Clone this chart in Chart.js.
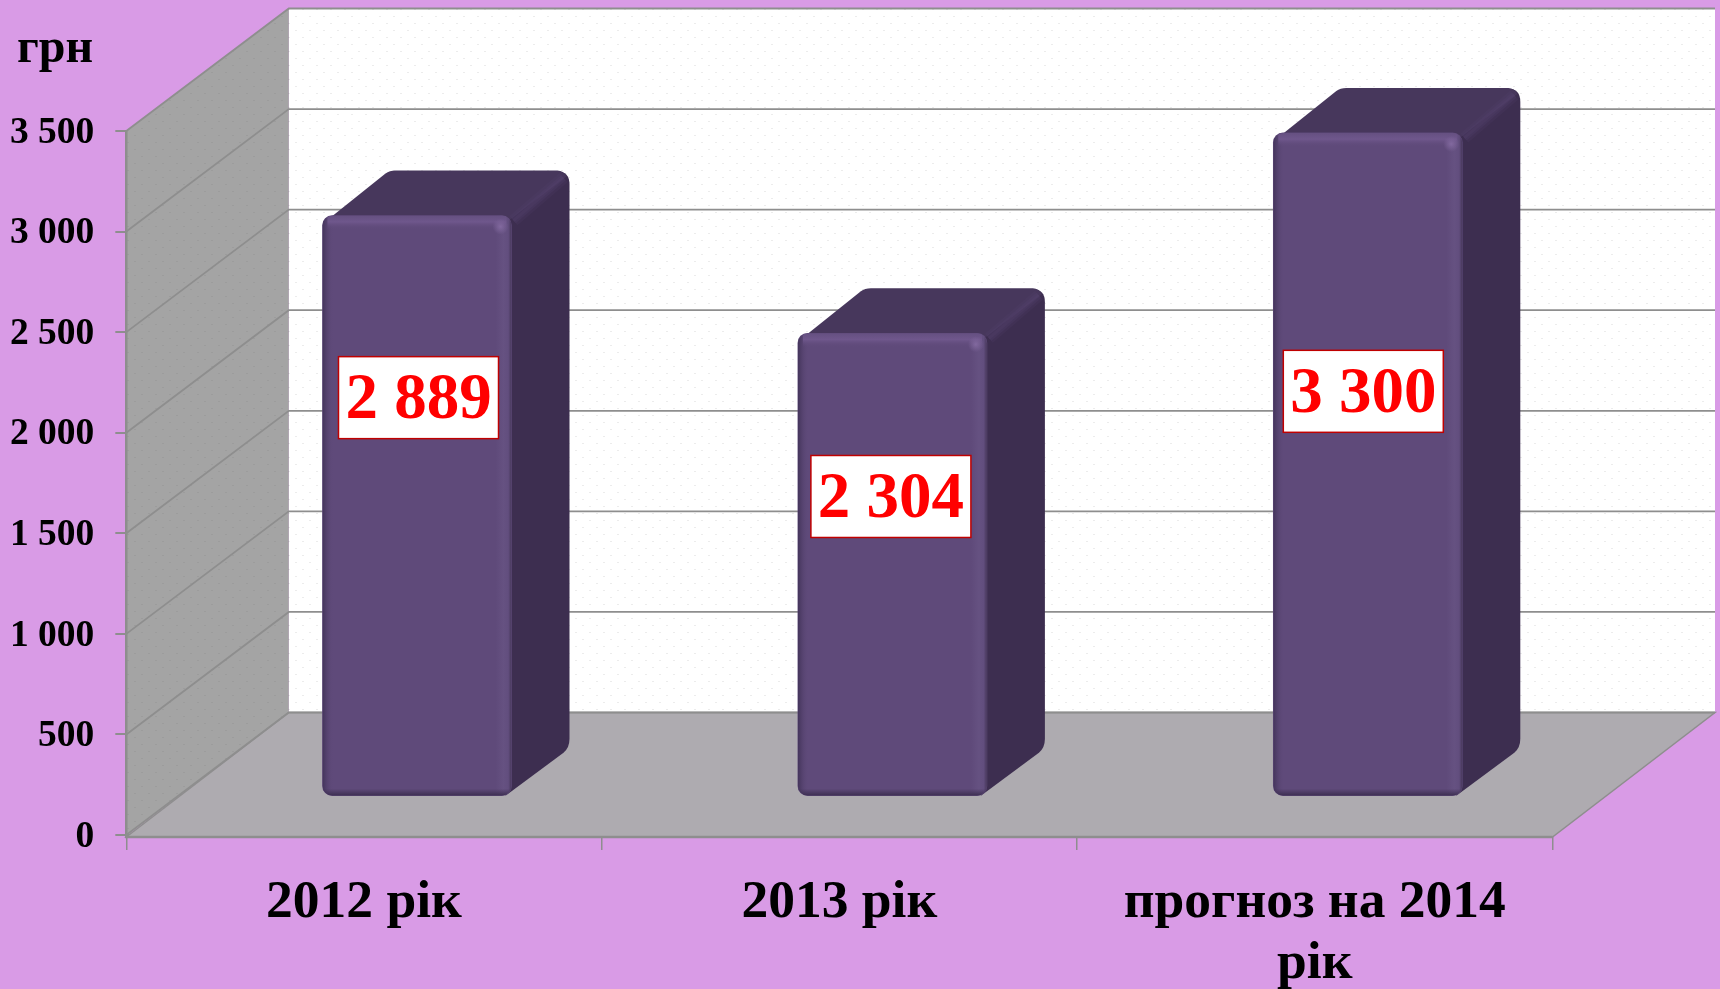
<!DOCTYPE html>
<html lang="uk">
<head>
<meta charset="utf-8">
<title>Chart</title>
<script src="https://cdn.jsdelivr.net/npm/chart.js@4"></script>
<style>
  html, body { margin: 0; padding: 0; background: #d99be6; overflow: hidden; }
  canvas { display: block; }
</style>
</head>
<body>
<canvas id="chart" width="1720" height="989"></canvas>
<script>
const categories = ['2012 рік', '2013 рік', ['прогноз на 2014', 'рік']];
const values = [2889, 2304, 3300];
const valueLabels = ['2 889', '2 304', '3 300'];
const yTickLabels = ['0', '500', '1 000', '1 500', '2 000', '2 500', '3 000', '3 500'];
const unitLabel = 'грн';

// the labels were dragged by hand in the original, so they sit above the bar middle
const labelNudge = [[1.5, -108], [-1.5, -68], [-4.5, -73]];

// 3d look: how far the back wall and the bars sit behind the axis plane
const wallDepth = { x: 162.5, y: -122.5 };
const barShift = { x: 53, y: -38.3 };
const barDepth = { x: 58, y: -45 };

const FONT = '"Liberation Serif", serif';
const LINE = '#8e8e8e';

function dotPattern(ctx, bg, dot) {
  const c = document.createElement('canvas');
  c.width = 14; c.height = 14;
  const p = c.getContext('2d');
  p.fillStyle = bg;
  p.fillRect(0, 0, 14, 14);
  p.fillStyle = dot;
  p.fillRect(1, 2, 2, 1);
  p.fillRect(8, 9, 2, 1);
  return ctx.createPattern(c, 'repeat');
}

function poly(ctx, pts) {
  ctx.beginPath();
  pts.forEach((p, i) => i ? ctx.lineTo(p[0], p[1]) : ctx.moveTo(p[0], p[1]));
  ctx.closePath();
}

const roomPlugin = {
  id: 'room',
  beforeDatasetsDraw(chart) {
    const { ctx, chartArea: a, scales: { y } } = chart;
    const dx = wallDepth.x, dy = wallDepth.y;
    ctx.save();
    // back wall
    ctx.fillStyle = dotPattern(ctx, '#ffffff', '#ececec');
    ctx.fillRect(a.left + dx, a.top + dy, a.right - a.left, a.bottom - a.top);
    // left wall
    poly(ctx, [[a.left, a.top], [a.left + dx, a.top + dy], [a.left + dx, a.bottom + dy], [a.left, a.bottom]]);
    ctx.fillStyle = dotPattern(ctx, '#a4a4a4', '#9c9c9c');
    ctx.fill();
    // floor
    poly(ctx, [[a.left, a.bottom + 2], [a.left + dx, a.bottom + dy], [a.right + dx, a.bottom + dy], [a.right, a.bottom + 2]]);
    ctx.fillStyle = '#aeabb0';
    ctx.fill();
    ctx.strokeStyle = LINE;
    ctx.lineWidth = 1.5;
    ctx.stroke();
    // gridlines, wall then back
    y.ticks.forEach(t => {
      const py = y.getPixelForValue(t.value);
      ctx.beginPath();
      ctx.moveTo(a.left, py);
      ctx.lineTo(a.left + dx, py + dy);
      ctx.lineTo(a.right + dx, py + dy);
      ctx.lineWidth = 1.8;
      ctx.strokeStyle = LINE;
      ctx.stroke();
    });
    // axis edges, the walls were painted over them
    ctx.beginPath();
    ctx.moveTo(a.left, a.top);
    ctx.lineTo(a.left, a.bottom + 2);
    ctx.lineTo(a.right, a.bottom + 2);
    ctx.lineWidth = 2.5;
    ctx.stroke();
    ctx.restore();
    // bars are drawn by chart.js, pushed back into the room
    ctx.save();
    ctx.translate(barShift.x, barShift.y);
  },
  afterDatasetsDraw(chart) {
    const { ctx } = chart;
    ctx.restore();
    // unit
    ctx.save();
    ctx.font = 'bold 48px ' + FONT;
    ctx.fillStyle = '#000';
    ctx.textAlign = 'center';
    ctx.textBaseline = 'alphabetic';
    ctx.fillText(unitLabel, 55, 62);
    // value boxes
    const bars = chart.getDatasetMeta(0).data;
    bars.forEach((bar, i) => {
      const cx = bar.x + barShift.x + labelNudge[i][0];
      const cy = (bar.y + bar.base) / 2 + barShift.y + labelNudge[i][1];
      ctx.fillStyle = '#fff';
      ctx.fillRect(cx - 80, cy - 41, 160, 82);
      ctx.strokeStyle = '#c00000';
      ctx.lineWidth = 1.5;
      ctx.strokeRect(cx - 80, cy - 41, 160, 82);
      ctx.font = 'bold 65px ' + FONT;
      ctx.fillStyle = '#ff0000';
      ctx.textBaseline = 'middle';
      ctx.fillText(valueLabels[i], cx, cy + 4);
    });
    ctx.restore();
  },
  beforeDatasetDraw(chart, args) {
    const { ctx } = chart;
    const dx = barDepth.x, dy = barDepth.y;
    chart.getDatasetMeta(args.index).data.forEach(bar => {
      const l = bar.x - bar.width / 2, r = bar.x + bar.width / 2;
      const t = bar.y, b = bar.base;
      // side face
      ctx.beginPath();
      ctx.moveTo(r - 6, t + 2);
      ctx.lineTo(r + dx - 14, t + dy + 1);
      ctx.quadraticCurveTo(r + dx, t + dy, r + dx, t + dy + 14);
      ctx.lineTo(r + dx, b + dy - 12);
      ctx.quadraticCurveTo(r + dx, b + dy - 3, r + dx - 6, b + dy + 2);
      ctx.lineTo(r - 6, b);
      ctx.closePath();
      ctx.fillStyle = '#3d2e50';
      ctx.fill();
      // top face
      ctx.beginPath();
      ctx.moveTo(l + 3, t + 6);
      ctx.lineTo(l + dx + 5, t + dy + 3);
      ctx.quadraticCurveTo(l + dx + 9, t + dy, l + dx + 15, t + dy);
      ctx.lineTo(r + dx - 12, t + dy);
      ctx.quadraticCurveTo(r + dx - 6, t + dy, r + dx - 3, t + dy + 6);
      ctx.lineTo(r - 4, t + 6);
      ctx.closePath();
      ctx.fillStyle = '#47375c';
      ctx.fill();
      // lighter soft crease between top and side
      [[12, 0.16], [7, 0.22], [3, 0.2]].forEach(([w, alpha]) => {
        ctx.beginPath();
        ctx.moveTo(r + 2, t + 5);
        ctx.lineTo(r + dx - 6, t + dy + 7);
        ctx.lineWidth = w;
        ctx.strokeStyle = `rgba(88,68,114,${alpha})`;
        ctx.stroke();
      });
    });
  },
  afterDatasetDraw(chart, args) {
    const { ctx } = chart;
    chart.getDatasetMeta(args.index).data.forEach(bar => {
      const l = bar.x - bar.width / 2, r = bar.x + bar.width / 2;
      const t = bar.y, b = bar.base;
      ctx.save();
      ctx.beginPath();
      ctx.roundRect(l, t, r - l, b - t, 10);
      ctx.clip();
      let g = ctx.createLinearGradient(l, 0, l + 11, 0);
      g.addColorStop(0, '#43345a');
      g.addColorStop(1, 'rgba(95,74,122,0)');
      ctx.fillStyle = g;
      ctx.fillRect(l, t, 11, b - t);
      g = ctx.createLinearGradient(r - 16, 0, r, 0);
      g.addColorStop(0, 'rgba(102,82,130,0)');
      g.addColorStop(0.5, 'rgba(102,82,130,0.9)');
      g.addColorStop(0.8, 'rgba(98,78,126,0.9)');
      g.addColorStop(1, '#463759');
      ctx.fillStyle = g;
      ctx.fillRect(r - 16, t, 16, b - t);
      g = ctx.createLinearGradient(0, t, 0, t + 14);
      g.addColorStop(0, '#655081');
      g.addColorStop(0.45, '#6f578c');
      g.addColorStop(1, 'rgba(95,74,122,0)');
      ctx.fillStyle = g;
      ctx.fillRect(l + 5, t, r - l - 10, 14);
      // small shine on the corner
      g = ctx.createRadialGradient(r - 11, t + 11, 0, r - 11, t + 11, 8);
      g.addColorStop(0, '#82699f');
      g.addColorStop(1, 'rgba(130,105,159,0)');
      ctx.fillStyle = g;
      ctx.fillRect(r - 20, t + 2, 18, 18);
      g = ctx.createLinearGradient(0, b - 7, 0, b);
      g.addColorStop(0, 'rgba(60,46,80,0)');
      g.addColorStop(1, '#3c2e50');
      ctx.fillStyle = g;
      ctx.fillRect(l, b - 7, r - l, 7);
      ctx.restore();
    });
  }
};

new Chart(document.getElementById('chart'), {
  type: 'bar',
  data: {
    labels: categories,
    datasets: [{
      data: values,
      backgroundColor: '#5f4a7a',
      borderRadius: 10,
      borderSkipped: false,
      barThickness: 189,
      clip: false
    }]
  },
  plugins: [roomPlugin],
  options: {
    responsive: false,
    animation: false,
    layout: { padding: { top: 131, right: 167.5, left: 0, bottom: 0 } },
    plugins: { legend: { display: false }, tooltip: { enabled: false } },
    scales: {
      y: {
        min: 0,
        max: 3500,
        afterFit: s => { s.width = 126.3; },
        grid: { drawOnChartArea: false, color: LINE, lineWidth: 2, tickLength: 11 },
        border: { color: LINE, width: 2 },
        ticks: {
          stepSize: 500,
          padding: 21,
          labelOffset: 2,
          color: '#000',
          font: { family: FONT, weight: 'bold', size: 37.5 },
          callback: (v, i) => yTickLabels[i]
        }
      },
      x: {
        afterFit: s => { s.height = 154; },
        grid: { drawOnChartArea: false, color: LINE, lineWidth: 1.5, tickLength: 15 },
        border: { color: LINE, width: 2 },
        ticks: {
          padding: 22,
          maxRotation: 0,
          autoSkip: false,
          color: '#000',
          font: { family: FONT, weight: 'bold', size: 53.5, lineHeight: 1.15 }
        }
      }
    }
  }
});
</script>
</body>
</html>
